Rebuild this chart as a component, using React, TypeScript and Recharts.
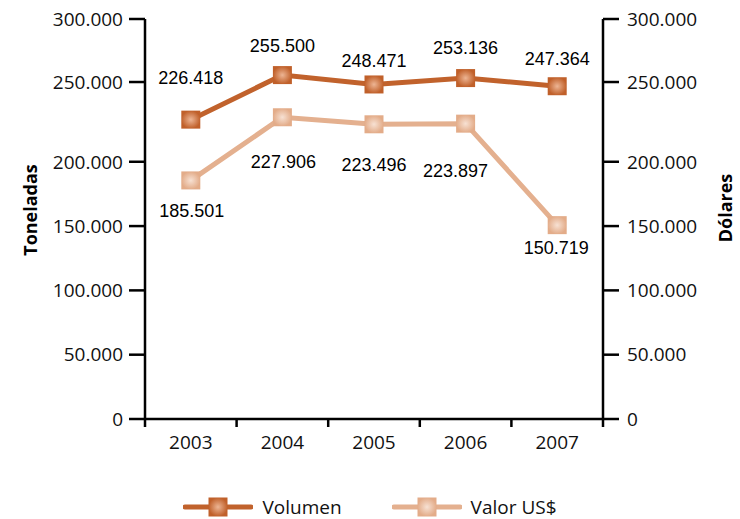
import React from 'react'
import { LineChart, Line, XAxis, YAxis, Legend, LabelList } from 'recharts'

// data
const YEARS = ['2003', '2004', '2005', '2006', '2007']
const VOLUMEN = [226418, 255500, 248471, 253136, 247364]
const VALOR = [185501, 227906, 223496, 223897, 150719]
const Y_TICKS = [0, 50000, 100000, 150000, 200000, 250000, 300000]

// the source axis is stretched between 200.000 and 250.000, so the
// value scale is piecewise: these are the break points and where they land
const SCALE_IN = [0, 200000, 250000, 300000]
const SCALE_OUT = [0, 200000, 262000, 311000]

// hand-placed data labels in the source (px relative to the marker)
const VOL_LABEL_DY = [-42, -29, -24, -30, -28]
const VAL_LABEL_DY = [30, 44, 40, 47, 23]
const VAL_LABEL_DX = [1, 1, 0, -10, -1]

const W = 740
const H = 519
const LEFT_W = 145
const RIGHT_W = 137
const BAND = (W - LEFT_W - RIGHT_W) / YEARS.length

const VOL_COLOR = '#C1622C'
const VAL_COLOR = '#E4B08F'
const INK = '#111'
const TICK_FONT = '"Open Sans", sans-serif'
const LABEL_FONT = '"Liberation Sans", Arial, sans-serif'

function interp(v: number, from: number[], to: number[]) {
  for (let i = 1; i < from.length; i++) {
    if (v <= from[i] || i === from.length - 1) {
      const t = (v - from[i - 1]) / (from[i] - from[i - 1])
      return to[i - 1] + t * (to[i] - to[i - 1])
    }
  }
  return v
}
const warp = (v: number) => interp(v, SCALE_IN, SCALE_OUT)
const unwarp = (v: number) => interp(v, SCALE_OUT, SCALE_IN)

const fmt = (v: number) =>
  String(Math.round(v)).replace(/\B(?=(\d{3})+(?!\d))/g, '.')

const rows = YEARS.map((year, i) => ({
  year,
  volumen: VOLUMEN[i],
  valor: VALOR[i],
}))

// eslint-disable-next-line @typescript-eslint/no-explicit-any
const YearTick = ({ x, y, payload, index, visibleTicksCount }: any) => {
  const half = BAND / 2
  const last = index === visibleTicksCount - 1
  return (
    <g>
      <line x1={x - half} x2={x - half} y1={y} y2={y + 8} stroke="#000" strokeWidth={2.5} />
      {last && <line x1={x + half} x2={x + half} y1={y} y2={y + 8} stroke="#000" strokeWidth={2.5} />}
      <text
        x={x}
        y={y + 23}
        dy="0.35em"
        textAnchor="middle"
        fill={INK}
        style={{ fontFamily: TICK_FONT, fontSize: 19 }}
      >
        {payload.value}
      </text>
    </g>
  )
}

// eslint-disable-next-line @typescript-eslint/no-explicit-any
const AxisTitle = ({ viewBox, text, dx, dy }: any) => {
  const cx = viewBox.x + dx
  const cy = viewBox.y + viewBox.height / 2 + dy
  return (
    <text
      x={cx}
      y={cy}
      transform={`rotate(-90 ${cx} ${cy})`}
      textAnchor="middle"
      dominantBaseline="central"
      fill="#000"
      style={{ fontFamily: TICK_FONT, fontSize: 18, fontWeight: 700 }}
    >
      {text}
    </text>
  )
}

const squareDot = (fill: string) =>
  // eslint-disable-next-line @typescript-eslint/no-explicit-any
  ({ cx, cy, index }: any) => (
    <rect key={`d-${fill}-${index}`} x={cx - 9.5} y={cy - 9} width={19} height={18} fill={fill} />
  )

const dataLabel = (values: number[], dys: number[], dxs?: number[]) =>
  // eslint-disable-next-line @typescript-eslint/no-explicit-any
  ({ x, y, index }: any) => (
    <text
      key={`l-${index}`}
      x={x + (dxs ? dxs[index] : 0)}
      y={y + dys[index]}
      dy="0.35em"
      textAnchor="middle"
      fill="#000"
      style={{ fontFamily: LABEL_FONT, fontSize: 18 }}
    >
      {fmt(values[index])}
    </text>
  )

const LegendIcon = ({ color, fill }: { color: string; fill: string }) => (
  <svg width={70} height={24}>
    <line x1={2} x2={68} y1={12} y2={12} stroke={color} strokeWidth={5} strokeLinecap="round" />
    <rect x={25.5} y={2.5} width={19} height={19} fill={fill} />
  </svg>
)

const ChartLegend = () => (
  <div
    style={{
      display: 'flex',
      justifyContent: 'center',
      alignItems: 'center',
      gap: 50,
      height: 24,
      fontFamily: TICK_FONT,
      fontSize: 19,
      color: INK,
    }}
  >
    <div style={{ display: 'flex', alignItems: 'center', gap: 9 }}>
      <LegendIcon color={VOL_COLOR} fill="url(#gradVol)" />
      <span>Volumen</span>
    </div>
    <div style={{ display: 'flex', alignItems: 'center', gap: 9 }}>
      <LegendIcon color={VAL_COLOR} fill="url(#gradVal)" />
      <span>Valor US$</span>
    </div>
  </div>
)

export default function App() {
  const domain = [0, warp(300000)]
  const ticks = Y_TICKS.map(warp)
  return (
    <div style={{ position: 'absolute', left: 0, top: 0, width: W, height: H, background: '#fff' }}>
      <svg width={0} height={0} style={{ position: 'absolute' }}>
        <defs>
          <radialGradient id="gradVol">
            <stop offset="0%" stopColor="#EDB594" />
            <stop offset="100%" stopColor="#C0602A" />
          </radialGradient>
          <radialGradient id="gradVal">
            <stop offset="0%" stopColor="#F7E1D3" />
            <stop offset="100%" stopColor="#E3AC89" />
          </radialGradient>
        </defs>
      </svg>
      <LineChart width={W} height={H} data={rows} margin={{ top: 19, right: 0, bottom: 0, left: 0 }}>
        <XAxis
          dataKey="year"
          scale="band"
          height={76}
          axisLine={{ stroke: '#000', strokeWidth: 2.5 }}
          tickLine={false}
          tickSize={0}
          tickMargin={0}
          tick={<YearTick />}
          interval={0}
        />
        <YAxis
          yAxisId="left"
          width={LEFT_W}
          domain={domain}
          ticks={ticks}
          tickFormatter={(v) => fmt(unwarp(v))}
          tickSize={16}
          tickMargin={6}
          axisLine={{ stroke: '#000', strokeWidth: 2.5 }}
          tickLine={{ stroke: '#000', strokeWidth: 2.5 }}
          tick={{ fill: INK, fontSize: 19, fontFamily: TICK_FONT }}
          label={<AxisTitle text="Toneladas" dx={30} dy={-9} />}
        />
        <YAxis
          yAxisId="right"
          orientation="right"
          width={RIGHT_W}
          domain={domain}
          ticks={ticks}
          tickFormatter={(v) => fmt(unwarp(v))}
          tickSize={16}
          tickMargin={8}
          axisLine={{ stroke: '#000', strokeWidth: 2.5 }}
          tickLine={{ stroke: '#000', strokeWidth: 2.5 }}
          tick={{ fill: INK, fontSize: 19, fontFamily: TICK_FONT }}
          label={<AxisTitle text="Dólares" dx={122} dy={-11} />}
        />
        <Legend verticalAlign="bottom" content={<ChartLegend />} />
        <Line
          yAxisId="left"
          dataKey={(d: { volumen: number }) => warp(d.volumen)}
          name="Volumen"
          stroke={VOL_COLOR}
          strokeWidth={5}
          dot={squareDot('url(#gradVol)')}
          activeDot={false}
          isAnimationActive={false}
        >
          <LabelList content={dataLabel(VOLUMEN, VOL_LABEL_DY)} />
        </Line>
        <Line
          yAxisId="right"
          dataKey={(d: { valor: number }) => warp(d.valor)}
          name="Valor US$"
          stroke={VAL_COLOR}
          strokeWidth={5}
          dot={squareDot('url(#gradVal)')}
          activeDot={false}
          isAnimationActive={false}
        >
          <LabelList content={dataLabel(VALOR, VAL_LABEL_DY, VAL_LABEL_DX)} />
        </Line>
      </LineChart>
    </div>
  )
}
